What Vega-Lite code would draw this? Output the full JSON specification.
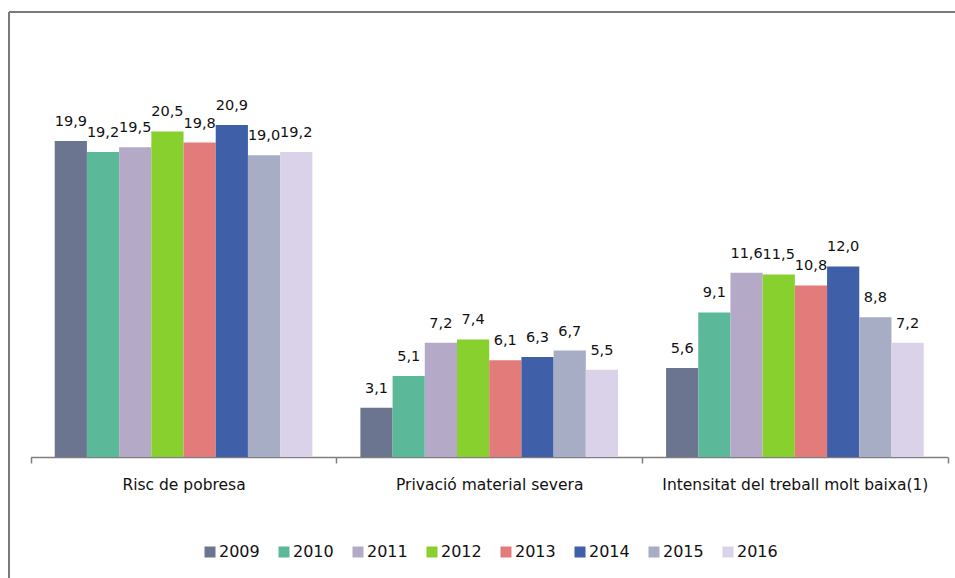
{
  "$schema": "https://vega.github.io/schema/vega-lite/v6.json",
  "autosize": {"type": "none"},
  "padding": {"left": 9, "top": 12, "right": 0, "bottom": 0},
  "width": 946,
  "height": 566,
  "background": "white",
  "config": {
    "view": {"stroke": "#7a7a7a", "strokeWidth": 2, "strokeDash": [946, 1512, 566, 0]},
    "font": "DejaVu Sans",
    "locale": {"number": {"decimal": ",", "thousands": ".", "grouping": [3], "currency": ["", " €"]}}
  },
  "data": {
    "values": [
      {"category": "Risc de pobresa", "year": "2009", "value": 19.9},
      {"category": "Risc de pobresa", "year": "2010", "value": 19.2},
      {"category": "Risc de pobresa", "year": "2011", "value": 19.5},
      {"category": "Risc de pobresa", "year": "2012", "value": 20.5},
      {"category": "Risc de pobresa", "year": "2013", "value": 19.8},
      {"category": "Risc de pobresa", "year": "2014", "value": 20.9},
      {"category": "Risc de pobresa", "year": "2015", "value": 19.0},
      {"category": "Risc de pobresa", "year": "2016", "value": 19.2},
      {"category": "Privació material severa", "year": "2009", "value": 3.1},
      {"category": "Privació material severa", "year": "2010", "value": 5.1},
      {"category": "Privació material severa", "year": "2011", "value": 7.2},
      {"category": "Privació material severa", "year": "2012", "value": 7.4},
      {"category": "Privació material severa", "year": "2013", "value": 6.1},
      {"category": "Privació material severa", "year": "2014", "value": 6.3},
      {"category": "Privació material severa", "year": "2015", "value": 6.7},
      {"category": "Privació material severa", "year": "2016", "value": 5.5},
      {"category": "Intensitat del treball molt baixa(1)", "year": "2009", "value": 5.6},
      {"category": "Intensitat del treball molt baixa(1)", "year": "2010", "value": 9.1},
      {"category": "Intensitat del treball molt baixa(1)", "year": "2011", "value": 11.6},
      {"category": "Intensitat del treball molt baixa(1)", "year": "2012", "value": 11.5},
      {"category": "Intensitat del treball molt baixa(1)", "year": "2013", "value": 10.8},
      {"category": "Intensitat del treball molt baixa(1)", "year": "2014", "value": 12.0},
      {"category": "Intensitat del treball molt baixa(1)", "year": "2015", "value": 8.8},
      {"category": "Intensitat del treball molt baixa(1)", "year": "2016", "value": 7.2}
    ]
  },
  "encoding": {
    "x": {
      "field": "category", "type": "nominal", "sort": null,
      "scale": {"range": [21.7, 938.7], "paddingInner": 0, "paddingOuter": 0},
      "axis": {
        "title": null, "orient": "bottom", "offset": -121,
        "tickBand": "extent", "labelAngle": 0,
        "domainColor": "#7f7f7f", "domainWidth": 1.5,
        "tickColor": "#7f7f7f", "tickSize": 6, "tickWidth": 1.5,
        "labelFont": "DejaVu Sans", "labelFontSize": 15.5, "labelColor": "#111",
        "labelPadding": 14, "labelLimit": 400
      }
    },
    "xOffset": {"field": "year", "type": "nominal", "scale": {"paddingInner": 0, "paddingOuter": 0.746}},
    "y": {
      "field": "value", "type": "quantitative",
      "scale": {"domain": [0, 25], "range": [445, 48], "nice": false, "zero": true},
      "axis": null
    }
  },
  "layer": [
    {
      "mark": {"type": "bar"},
      "encoding": {
        "color": {
          "field": "year", "type": "nominal",
          "scale": {
            "domain": ["2009", "2010", "2011", "2012", "2013", "2014", "2015", "2016"],
            "range": ["#6b7590", "#5bb899", "#b4aac8", "#88d02e", "#e37b7b", "#3f5fa8", "#a6adc4", "#d9d2e8"]
          },
          "legend": {
            "title": null, "orient": "none", "direction": "horizontal", "columns": 8,
            "legendX": 193, "legendY": 532, "padding": 0,
            "symbolType": "square", "symbolSize": 121, "symbolStrokeWidth": 0,
            "labelFont": "DejaVu Sans", "labelFontSize": 16, "labelColor": "#111",
            "labelOffset": 1, "columnPadding": 16
          }
        }
      }
    },
    {
      "mark": {"type": "text", "baseline": "alphabetic", "dy": -15, "fontSize": 14.5, "font": "DejaVu Sans", "color": "#111"},
      "encoding": {
        "text": {"field": "value", "type": "quantitative", "format": ".1f"}
      }
    }
  ]
}
